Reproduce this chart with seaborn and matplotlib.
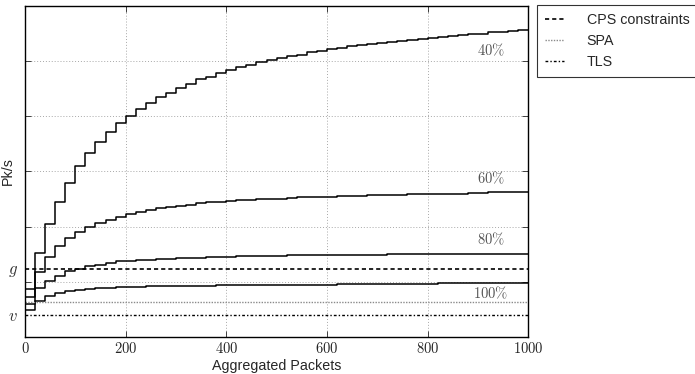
import pandas as pd
import seaborn as sns
import matplotlib.pyplot as plt
from matplotlib.lines import Line2D

# step boundaries (aggregated packets), one value per 20-packet step
packets = list(range(0, 1001, 20))

load40 = [0.87, 1.53, 2.05, 2.45, 2.80, 3.10, 3.33, 3.53, 3.72, 3.87,
          4.01, 4.13, 4.25, 4.35, 4.43, 4.52, 4.59, 4.67, 4.72, 4.78,
          4.84, 4.89, 4.93, 4.98, 5.02, 5.06, 5.09, 5.12, 5.16, 5.19,
          5.22, 5.24, 5.27, 5.29, 5.31, 5.33, 5.35, 5.37, 5.39, 5.41,
          5.42, 5.44, 5.46, 5.47, 5.49, 5.50, 5.52, 5.53, 5.55, 5.56]
load60 = [0.73, 1.17, 1.45, 1.65, 1.79, 1.91, 1.99, 2.06, 2.12, 2.18,
          2.23, 2.27, 2.30, 2.33, 2.36, 2.38, 2.40, 2.42, 2.44, 2.45,
          2.47, 2.48, 2.49, 2.50, 2.51, 2.51, 2.52, 2.53, 2.53, 2.54,
          2.54, 2.55, 2.56, 2.56, 2.57, 2.57, 2.58, 2.58, 2.59, 2.59,
          2.59, 2.60, 2.60, 2.60, 2.61, 2.61, 2.62, 2.62, 2.62, 2.63]
load80 = [0.60, 0.89, 1.01, 1.11, 1.19, 1.24, 1.28, 1.31, 1.34, 1.37,
          1.38, 1.39, 1.40, 1.41, 1.42, 1.43, 1.44, 1.44, 1.45, 1.45,
          1.45, 1.46, 1.46, 1.46, 1.47, 1.47, 1.48, 1.48, 1.48, 1.48,
          1.49, 1.49, 1.49, 1.49, 1.49, 1.49, 1.50, 1.50, 1.50, 1.50,
          1.50, 1.50, 1.51, 1.51, 1.51, 1.51, 1.51, 1.51, 1.51, 1.51]
load100 = [0.49, 0.66, 0.74, 0.79, 0.83, 0.85, 0.87, 0.88, 0.89, 0.90,
           0.90, 0.91, 0.92, 0.92, 0.92, 0.93, 0.93, 0.93, 0.93, 0.94,
           0.94, 0.94, 0.94, 0.94, 0.95, 0.95, 0.95, 0.95, 0.95, 0.95,
           0.95, 0.96, 0.96, 0.96, 0.96, 0.96, 0.96, 0.96, 0.96, 0.96,
           0.96, 0.97, 0.97, 0.97, 0.97, 0.97, 0.97, 0.97, 0.97, 0.97]

loads = ['40%', '60%', '80%', '100%']
label_x = 926
label_y = [5.20, 2.88, 1.78, 0.80]

cps_level = 1.24   # g
spa_level = 0.64
tls_level = 0.39   # v
legend_names = ['CPS constraints', 'SPA', 'TLS']

xticks = [0, 200, 400, 600, 800, 1000]
xtick_labels = ['$0$', '$200$', '$400$', '$600$', '$800$', '$1000$']

sns.set_style("ticks")
plt.rcParams['font.family'] = ['Liberation Sans', 'DejaVu Sans']
plt.rcParams['mathtext.fontset'] = 'cm'

rows = []
for name, vals in zip(loads, [load40, load60, load80, load100]):
    full = vals + [vals[-1]]
    for p, v in zip(packets, full):
        rows.append({'packets': p, 'rate': v, 'load': name})
df = pd.DataFrame(rows)

fig = plt.figure(figsize=(6.95, 3.74), dpi=100)
ax = fig.add_axes([0.036, 0.099, 0.724, 0.885])

sns.lineplot(data=df, x='packets', y='rate', hue='load', palette=['black'] * 4,
             estimator=None, drawstyle='steps-post', lw=1.1, legend=False, ax=ax)

cps_style = dict(color='black', lw=1.2, ls=(0, (2.5, 1.8)))
spa_style = dict(color='#8a8a8a', lw=1.0, ls=(0, (1, 1)))
tls_style = dict(color='black', lw=1.0, ls=(0, (2, 1.5, 1, 1.5)))
ax.axhline(cps_level, **cps_style)
ax.axhline(spa_level, **spa_style)
ax.axhline(tls_level, **tls_style)

for name, y in zip(loads, label_y):
    ax.text(label_x, y, '$' + name.replace('%', r'\%') + '$', ha='center', va='center',
            color='#555555', fontsize=10.5)

ax.set_xlim(0, 1000)
ax.set_ylim(0, 6)
ax.set_xticks(xticks)
ax.set_xticklabels(xtick_labels, fontsize=10.5)
ax.set_yticks([1, 2, 3, 4, 5])
ax.set_yticklabels([])
ax.set_yticks([tls_level, cps_level], minor=True)
ax.set_yticklabels(['$v$', '$g$'], minor=True, fontsize=12, color='#333333')
ax.tick_params(which='both', direction='in', top=True, right=True, length=4, width=0.6)
ax.tick_params(which='major', axis='x', pad=3)
ax.tick_params(which='minor', length=0, pad=5)
ax.grid(True, which='major', color='#a8a8a8', ls=(0, (1, 2)), lw=0.7)
for s in ax.spines.values():
    s.set_linewidth(1.0)
    s.set_color('black')

ax.set_xlabel('Aggregated Packets', fontsize=10.3)
ax.set_ylabel('Pk/s', fontsize=10.3)
ax.xaxis.set_label_coords(0.5, -0.068)
ax.yaxis.set_label_coords(-0.02, 0.5)

handles = [Line2D([], [], **cps_style), Line2D([], [], **spa_style), Line2D([], [], **tls_style)]
leg = ax.legend(handles, legend_names, loc='upper left', bbox_to_anchor=(1.018, 1.004),
                fontsize=10.3, frameon=True, fancybox=False, handlelength=1.3,
                handletextpad=1.6, borderpad=0.55, labelspacing=0.5, borderaxespad=0)
leg.get_frame().set_edgecolor('black')
leg.get_frame().set_linewidth(0.8)

fig.savefig('out.png', dpi=100)
